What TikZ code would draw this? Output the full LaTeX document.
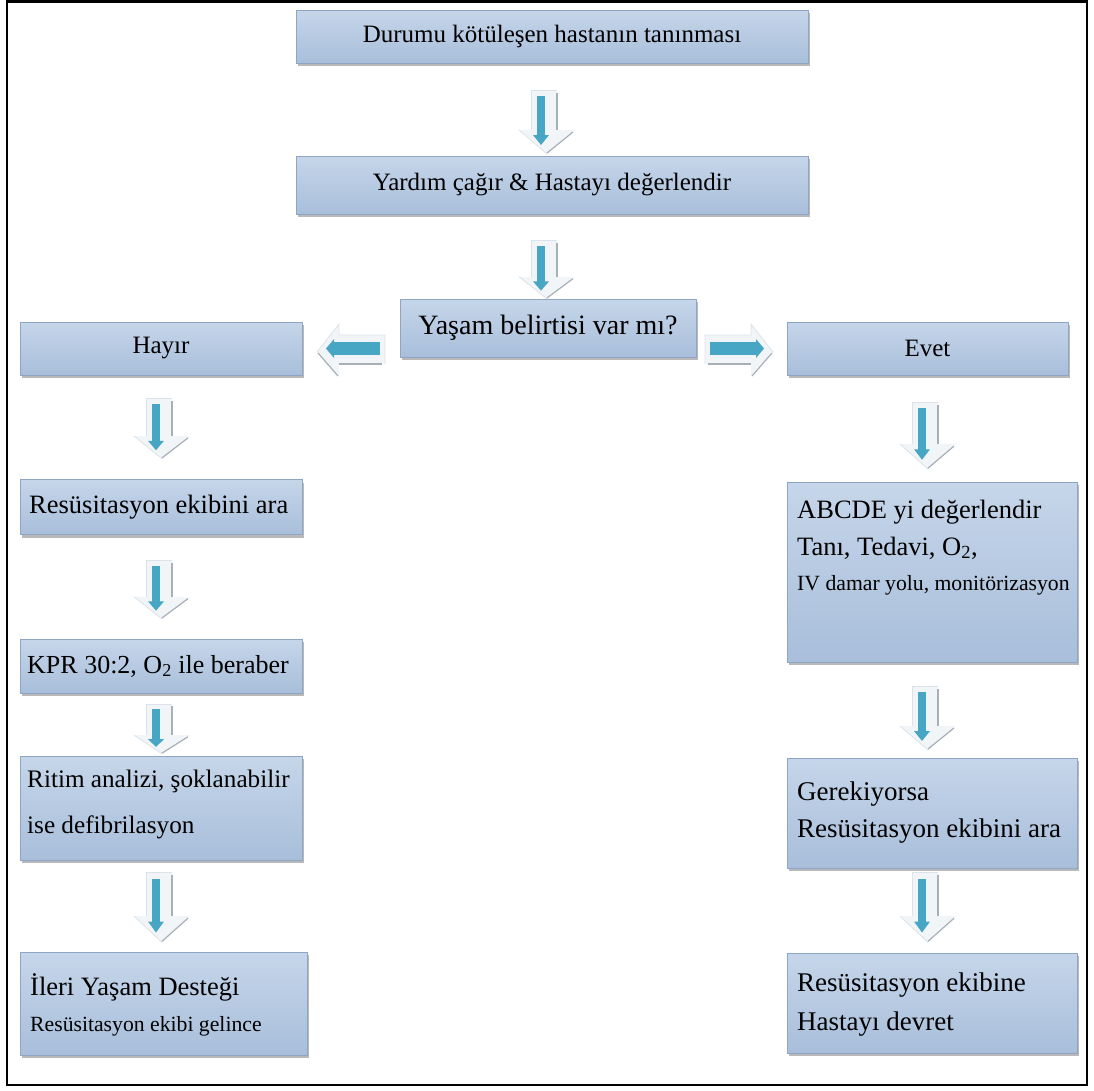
\documentclass[tikz,border=0pt]{standalone}
\usepackage{fontspec}
\setmainfont{Liberation Serif}
\usetikzlibrary{shadows}
\definecolor{boxedge}{HTML}{8EA6C4}
\definecolor{btop}{HTML}{C6D6EA}
\definecolor{bmid}{HTML}{E9EFF7}
\definecolor{bbot}{HTML}{A8BEDA}
\definecolor{arrteal}{HTML}{46A6C3}
\definecolor{arrpale}{HTML}{F2F5F8}
\definecolor{arredge}{HTML}{DCE2E9}
\definecolor{arrgray}{HTML}{A7AFB8}
\newcommand{\fs}[1]{\rmfamily\fontsize{#1}{30}\selectfont}
\tikzset{
  box/.style={draw=boxedge, line width=0.8pt, top color=btop, middle color=bmid, bottom color=bbot,
    drop shadow={shadow xshift=2pt, shadow yshift=-3pt, fill=black!50, opacity=0.55}, inner sep=0pt},
  big/.style={font=\fs{25}},
  bigger/.style={font=\fs{26.5}},
  small/.style={font=\fs{21.7}},
  txt/.style={inner sep=0pt, anchor=west},
  downarr/.pic={
    \fill[arrpale] (-16,0) -- (10,0) -- (10,40) -- (28,40) -- (0,64) -- (-28,40) -- (-16,40) -- cycle;
    \draw[arredge, line width=0.8pt] (-16,40) -- (-16,0) -- (10,0);
    \draw[arredge, line width=0.8pt] (-28,40) -- (0,64);
    \draw[arrgray, line width=1.6pt] (10,3) -- (10,40);
    \draw[arrgray, line width=1.2pt] (26,42) -- (0,63);
    \fill[arrteal] (-10,6) rectangle (-2,46);
    \fill[arrteal] (-14,45) -- (2,45) -- (-6,55) -- cycle;
  },
  rightarr/.pic={
    \fill[arrpale] (0,-13) -- (46,-13) -- (46,-24) -- (68,4) -- (46,28) -- (46,16) -- (0,16) -- cycle;
    \draw[arredge, line width=0.8pt] (0,16) -- (0,-13) -- (46,-13) -- (46,-24) -- (68,4);
    \draw[arrgray, line width=1.6pt] (3,16) -- (46,16);
    \draw[arrgray, line width=1.2pt] (67,5) -- (47,28);
    \fill[arrteal] (5,-6) rectangle (52,7);
    \fill[arrteal] (51,-9) -- (59,0.5) -- (51,10) -- cycle;
  },
}
\begin{document}
\begin{tikzpicture}[x=1pt,y=-1pt]
\useasboundingbox (0,0) rectangle (1094,1090);
\draw[line width=2.5pt] (7,1.5) rectangle (1087,1085);

% boxes
\node[box, big, minimum width=512pt, minimum height=53pt] (n1) at (552,36.5) {Durumu kötüleşen hastanın tanınması};
\node[box, big, minimum width=512pt, minimum height=58pt] (n2) at (552,185) {Yardım çağır \& Hastayı değerlendir};
\node[box, font=\fs{28}, minimum width=296pt, minimum height=58pt] (n3) at (548,328) {Yaşam belirtisi var mı?};
\node[box, big, minimum width=282pt, minimum height=53pt] (hayir) at (161,348.5) {Hayır};
\node[box, big, minimum width=281pt, minimum height=53pt] (evet) at (927.5,348.5) {Evet};

\node[box, minimum width=282pt, minimum height=55pt] (res) at (161,507) {};
\node[txt, bigger] (rest) at (29,507) {Resüsitasyon ekibini ara};
\node[box, minimum width=282pt, minimum height=54pt] (kpr) at (161,666) {};
\node[txt, font=\fs{26}] (kprt) at (27,666) {KPR 30:2, O\textsubscript{2} ile beraber};
\node[box, minimum width=282pt, minimum height=104pt] (rit) at (161,808) {};
\node[txt, font=\fs{25.2}] (rit1) at (27,781) {Ritim analizi, şoklanabilir};
\node[txt, font=\fs{25.2}] (rit2) at (27,827) {ise defibrilasyon};
\node[box, minimum width=287pt, minimum height=103pt] (ileri) at (163.5,1003.5) {};
\node[txt, bigger] (ile1) at (30,987) {İleri Yaşam Desteği};
\node[txt, small] (ile2) at (30,1026) {Resüsitasyon ekibi gelince};

\node[box, minimum width=290pt, minimum height=180pt] (abc) at (932,572) {};
\node[txt, bigger] (abc1) at (797,512) {ABCDE yi değerlendir};
\node[txt, bigger] (abc2) at (797,548) {Tanı, Tedavi, O\textsubscript{2},};
\node[txt, small] (abc3) at (797,585) {IV damar yolu, monitörizasyon};
\node[box, minimum width=290pt, minimum height=110pt] (ger) at (932,813) {};
\node[txt, font=\fs{27}] (ger1) at (797,794) {Gerekiyorsa};
\node[txt, font=\fs{27}] (ger2) at (797,831) {Resüsitasyon ekibini ara};
\node[box, minimum width=290pt, minimum height=100pt] (dev) at (932,1003) {};
\node[txt, font=\fs{27}] (dev1) at (797,985) {Resüsitasyon ekibine};
\node[txt, font=\fs{27}] (dev2) at (797,1024) {Hastayı devret};

% block arrows
\pic at (547,90) {downarr};
\pic[yscale=0.92] at (547,240) {downarr};
\pic[xscale=-1] at (385,348) {rightarr};
\pic at (705,348) {rightarr};
\pic[yscale=0.95] at (162,398) {downarr};
\pic[yscale=0.92] at (162,560) {downarr};
\pic[yscale=0.78] at (162,704) {downarr};
\pic[yscale=1.1] at (162,872) {downarr};
\pic[yscale=1.05] at (928,402) {downarr};
\pic[yscale=1.0] at (928,686) {downarr};
\pic[yscale=1.1] at (928,872) {downarr};
\end{tikzpicture}
\end{document}
